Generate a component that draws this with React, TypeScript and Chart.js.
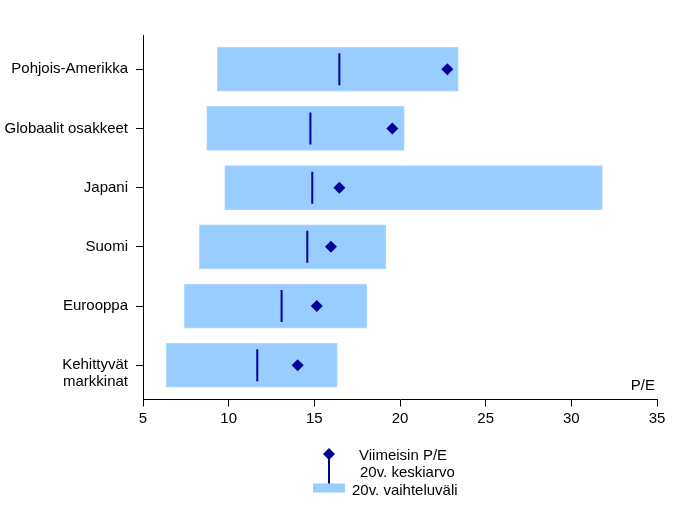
import React, { useEffect, useRef } from "react";
import { Chart, registerables } from "chart.js";

Chart.register(...registerables);

const categories: (string | string[])[] = [
  "Pohjois-Amerikka",
  "Globaalit osakkeet",
  "Japani",
  "Suomi",
  "Eurooppa",
  ["", "Kehittyvät", "markkinat"],
];
const rangeLow = [9.34, 8.72, 9.77, 8.29, 7.41, 6.36];
const rangeHigh = [23.4, 20.25, 31.81, 19.18, 18.07, 16.34];
const average = [16.46, 14.77, 14.88, 14.59, 13.09, 11.67];
const latest = [22.76, 19.55, 16.46, 15.97, 15.14, 14.03];
const xTicks = [5, 10, 15, 20, 25, 30, 35];
const legendLabels = ["Viimeisin P/E", "20v. keskiarvo", "20v. vaihteluväli"];
const axisTitle = "P/E";

const FONT = "'Liberation Sans', Arial, sans-serif";
const BAR = "#99CCFF";
const DARK = "#000099";

const overlay = {
  id: "overlay",
  afterDraw(chart: any) {
    const ctx = chart.ctx;
    const area = chart.chartArea;
    ctx.save();
    ctx.font = `15px ${FONT}`;
    ctx.fillStyle = "#000";
    ctx.textBaseline = "middle";
    ctx.textAlign = "right";
    ctx.fillText(axisTitle, area.right - 2, area.bottom - 14);

    // legend
    ctx.fillStyle = BAR;
    ctx.fillRect(313, 483.5, 32, 9);
    ctx.strokeStyle = DARK;
    ctx.lineWidth = 2;
    ctx.beginPath();
    ctx.moveTo(329, 454);
    ctx.lineTo(329, 483.5);
    ctx.stroke();
    ctx.fillStyle = DARK;
    ctx.beginPath();
    ctx.moveTo(329, 448);
    ctx.lineTo(335, 454);
    ctx.lineTo(329, 460);
    ctx.lineTo(323, 454);
    ctx.closePath();
    ctx.fill();

    ctx.fillStyle = "#000";
    ctx.textAlign = "left";
    ctx.fillText(legendLabels[0], 359, 456);
    ctx.fillText(legendLabels[1], 360, 473);
    ctx.fillText(legendLabels[2], 352, 491);
    ctx.restore();
  },
};

export default function App() {
  const ref = useRef<HTMLCanvasElement>(null);
  useEffect(() => {
    if (!ref.current) return;
    const idx = categories.map((_, i) => i);
    const chart = new Chart(ref.current, {
      type: "bar",
      data: {
        datasets: [
          {
            type: "scatter",
            label: legendLabels[0],
            data: idx.map((i) => ({ x: latest[i], y: i })),
            pointStyle: "rectRot",
            pointRadius: 6,
            pointBackgroundColor: DARK,
            pointBorderColor: DARK,
            pointBorderWidth: 0,
            order: 0,
          } as any,
          {
            type: "scatter",
            label: legendLabels[1],
            data: idx.map((i) => ({ x: average[i], y: i })),
            pointStyle: "line",
            pointRotation: 90,
            pointRadius: 16,
            pointBorderColor: DARK,
            pointBorderWidth: 2,
            order: 1,
          } as any,
          {
            type: "bar",
            label: legendLabels[2],
            data: idx.map((i) => ({ x: [rangeLow[i], rangeHigh[i]], y: i })),
            backgroundColor: BAR,
            borderColor: "#B0D8FF",
            borderWidth: 1,
            borderSkipped: false,
            barThickness: 44,
            order: 2,
          } as any,
        ],
      },
      options: {
        responsive: false,
        animation: false,
        indexAxis: "y",
        layout: { padding: { left: 0, top: 35, right: 23, bottom: 0 } },
        plugins: {
          legend: { display: false },
          tooltip: { enabled: false },
        },
        scales: {
          x: {
            type: "linear",
            min: 5,
            max: 35,
            offset: false,
            afterFit: (s: any) => {
              s.height = 110.5;
            },
            afterBuildTicks: (s: any) => {
              s.ticks = xTicks.map((v) => ({ value: v }));
            },
            grid: {
              drawOnChartArea: false,
              color: "#000",
              tickLength: 7,
              offset: false,
            },
            border: { color: "#000", width: 1 },
            ticks: {
              color: "#000",
              font: { family: FONT, size: 15 },
              padding: 3,
              maxRotation: 0,
            },
          },
          y: {
            type: "linear",
            reverse: true,
            min: -0.578,
            max: 5.578,
            offset: false,
            afterFit: (s: any) => {
              s.width = 143;
            },
            afterBuildTicks: (s: any) => {
              s.ticks = idx.map((v) => ({ value: v }));
            },
            grid: {
              drawOnChartArea: false,
              color: "#000",
              tickLength: 7,
              offset: false,
            },
            border: { color: "#000", width: 1 },
            ticks: {
              color: "#000",
              font: { family: FONT, size: 15, lineHeight: 1.13 },
              padding: 8,
              callback: (v: any) => categories[Number(v)] as any,
            },
          },
        },
      },
      plugins: [overlay],
    });
    return () => chart.destroy();
  }, []);
  return (
    <div style={{ position: "absolute", left: 0, top: 0, width: 680, height: 510, background: "#fff" }}>
      <canvas ref={ref} width={680} height={510} />
    </div>
  );
}
